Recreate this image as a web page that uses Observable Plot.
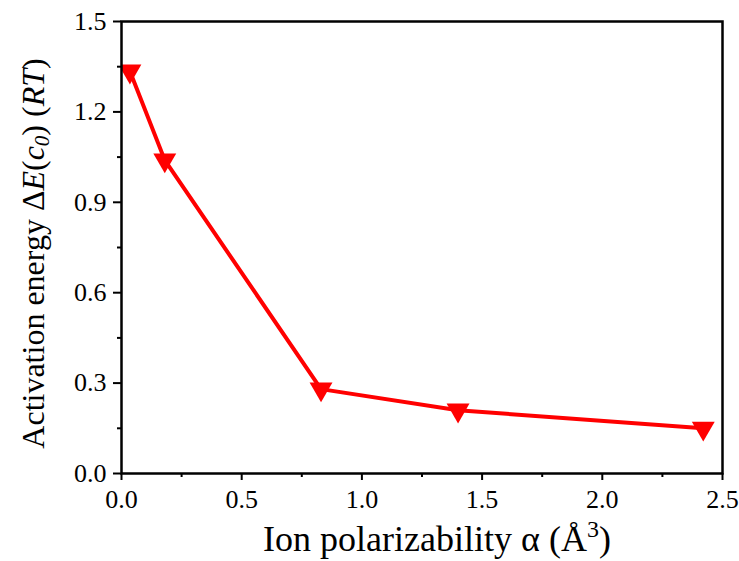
<!DOCTYPE html>
<html><head><meta charset="utf-8">
<script src="https://cdn.jsdelivr.net/npm/d3@7"></script>
<script src="https://cdn.jsdelivr.net/npm/@observablehq/plot@0.6"></script>
<style>body{margin:0;background:#fff;} svg{display:block}</style>
</head><body><div id="chart"></div>
<script>
const ions = ["Li+", "Na+", "K+", "Rb+", "Cs+"];
const polarizability = [0.035, 0.18, 0.83, 1.40, 2.42];
const activationEnergy = [1.335, 1.04, 0.28, 0.21, 0.15];
const xTicks = [0, 0.5, 1, 1.5, 2, 2.5];
const xMinorTicks = [0.25, 0.75, 1.25, 1.75, 2.25];
const yTicks = [0, 0.3, 0.6, 0.9, 1.2, 1.5];
const yMinorTicks = [0.15, 0.45, 0.75, 1.05, 1.35];
const xTitle = "Ion polarizability α (Å3)";
const yTitle = "Activation energy ΔE(c0) (RT)";

const data = ions.map((ion, i) => ({ion, x: polarizability[i], y: activationEnergy[i]}));

const serif = "Liberation Serif, Times New Roman, serif";

const triangleDown = {
  draw(context, size) {
    const y = -Math.sqrt(size / (Math.sqrt(3) * 3));
    context.moveTo(0, -y * 2);
    context.lineTo(-Math.sqrt(3) * y, y);
    context.lineTo(Math.sqrt(3) * y, y);
    context.closePath();
  }
};

const tickText = {fontFamily: serif, fontSize: 26};

const chart = Plot.plot({
  width: 739, height: 561,
  marginLeft: 121, marginRight: 17, marginTop: 21, marginBottom: 88,
  style: {fontFamily: serif, fontSize: "26px", color: "#000", background: "#fff"},
  x: {domain: [0, 2.5]},
  y: {domain: [0, 1.5]},
  marks: [
    Plot.axisX({ticks: xTicks, tickFormat: d3.format(".1f"), tickSize: 7, tickPadding: 9, strokeWidth: 2, label: null, ...tickText}),
    Plot.axisX({ticks: xMinorTicks, tickFormat: () => "", tickSize: 4, strokeWidth: 2, label: null}),
    Plot.axisY({ticks: yTicks, tickFormat: d3.format(".1f"), tickSize: 8, tickPadding: 7, strokeWidth: 2, label: null, ...tickText}),
    Plot.axisY({ticks: yMinorTicks, tickFormat: () => "", tickSize: 4, strokeWidth: 2, label: null}),
    Plot.line(data, {x: "x", y: "y", stroke: "#ff0000", strokeWidth: 4}),
    Plot.dot(data, {x: "x", y: "y", symbol: triangleDown, r: 8.5, fill: "#ff0000", stroke: "none", clip: true}),
    Plot.frame({stroke: "#000", strokeWidth: 2.5}),
    Plot.text([yTitle], {text: d => d, frameAnchor: "left", rotate: -90, dx: -78, dy: 6, textAnchor: "middle", lineAnchor: "bottom", fontSize: 32, fontFamily: serif}),
    Plot.text([xTitle], {text: d => d, frameAnchor: "bottom", dx: 15, dy: 77, textAnchor: "middle", lineAnchor: "bottom", fontSize: 36, fontFamily: serif})
  ]
});

document.getElementById("chart").appendChild(chart);

d3.select(chart).selectAll("text").each(function() {
  const t = this.textContent;
  if (t === yTitle) {
    this.innerHTML = 'Activation energy Δ<tspan font-style="italic">E</tspan>(<tspan font-style="italic">c</tspan><tspan font-style="italic" font-size="21" dy="5">0</tspan><tspan dy="-5">) (</tspan><tspan font-style="italic">RT</tspan>)';
  } else if (t === xTitle) {
    this.innerHTML = 'Ion polarizability α (Å<tspan font-size="24" dy="-14">3</tspan><tspan dy="14">)</tspan>';
  }
});
</script>
</body></html>
